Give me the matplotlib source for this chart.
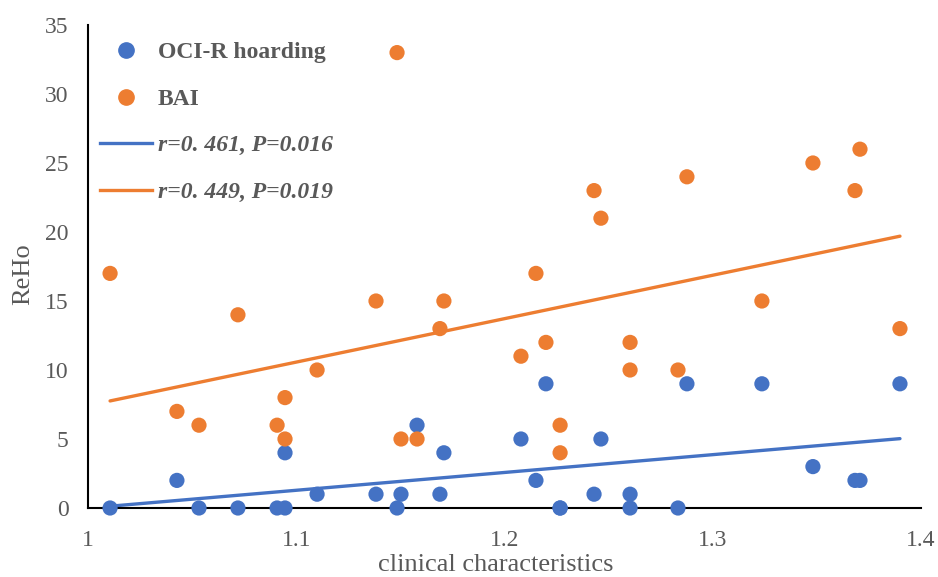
import numpy as np
import matplotlib
matplotlib.use("Agg")
import matplotlib.pyplot as plt
from matplotlib.lines import Line2D

# clinical characteristics (shared x for both series)
x_vals = [1.0106, 1.0427, 1.0533, 1.0720, 1.0908, 1.0946, 1.0946, 1.1100, 1.1383, 1.1484,
          1.1503, 1.1580, 1.1690, 1.1709, 1.2079, 1.2151, 1.2199, 1.2267, 1.2267, 1.2430,
          1.2463, 1.2603, 1.2603, 1.2833, 1.2876, 1.3236, 1.3481, 1.3683, 1.3707, 1.3899]
oci_hoarding = [0, 2, 0, 0, 0, 0, 4, 1, 1, 0,
                1, 6, 1, 4, 5, 2, 9, 0, 0, 1,
                5, 1, 0, 0, 9, 9, 3, 2, 2, 9]
bai = [17, 7, 6, 14, 6, 8, 5, 10, 15, 33,
       5, 5, 13, 15, 11, 17, 12, 6, 4, 23,
       21, 12, 10, 10, 24, 15, 25, 23, 26, 13]

labels = ["OCI-R hoarding", "BAI"]
fit_labels = ["r=0. 461, P=0.016", "r=0. 449, P=0.019"]
x_ticks = [1, 1.1, 1.2, 1.3, 1.4]
y_ticks = [0, 5, 10, 15, 20, 25, 30, 35]

BLUE = "#4472C4"
ORANGE = "#ED7D31"
GREY = "#595959"

plt.rcParams["font.family"] = ["Liberation Serif", "DejaVu Serif"]

fig = plt.figure(figsize=(9.38, 5.77), dpi=100)
ax = fig.add_axes([88 / 938, 1 - 508 / 577, (921 - 88) / 938, (508 - 25) / 577])

x = np.array(x_vals)
series = [(np.array(oci_hoarding), BLUE), (np.array(bai), ORANGE)]

# linear trend lines over the data range
for y, c in series:
    k, b = np.polyfit(x, y, 1)
    xs = np.array([x.min(), x.max()])
    ax.plot(xs, k * xs + b, color=c, lw=2.4, solid_capstyle="round", zorder=2)

for y, c in series:
    ax.scatter(x, y, s=120, color=c, edgecolors="none", zorder=3, clip_on=False)

ax.set_xlim(1, 1.4)
ax.set_ylim(0, 35)
ax.set_xticks(x_ticks)
ax.set_xticklabels([f"{t:g}" for t in x_ticks])
ax.set_yticks(y_ticks)
ax.tick_params(length=0, labelsize=17, labelcolor=GREY)
ax.tick_params(axis="x", pad=16)
ax.tick_params(axis="y", pad=14)
for s in ["top", "right"]:
    ax.spines[s].set_visible(False)
for s in ["left", "bottom"]:
    ax.spines[s].set_color("black")
    ax.spines[s].set_linewidth(1.5)

ax.set_xlabel("clinical characteristics", fontsize=19, color=GREY)
ax.set_ylabel("ReHo", fontsize=19, color=GREY)
# put the axis titles where they sit in the reference
ax.xaxis.set_label_coords((496 - 88) / 833, -(565 - 508) / 483, transform=ax.transAxes)
ax.yaxis.set_label_coords(-(88 - 23) / 833, 1 - (274 - 25) / 483, transform=ax.transAxes)
ax.xaxis.label.set_va("center")
ax.yaxis.label.set_va("center")

handles = [
    Line2D([], [], ls="none", marker="o", ms=11, color=BLUE),
    Line2D([], [], ls="none", marker="o", ms=11, color=ORANGE),
    Line2D([], [], color=BLUE, lw=2.4),
    Line2D([], [], color=ORANGE, lw=2.4),
]
leg = ax.legend(handles, labels + fit_labels, loc="upper left",
                bbox_to_anchor=(0.003, 0.985), frameon=False, fontsize=17,
                handlelength=2.2, handletextpad=0.25, labelspacing=1.06,
                borderaxespad=0.0)
for i, t in enumerate(leg.get_texts()):
    t.set_color(GREY)
    t.set_fontweight("bold")
    if i >= 2:
        t.set_fontstyle("italic")

fig.savefig("out.png", dpi=100, facecolor="white")
